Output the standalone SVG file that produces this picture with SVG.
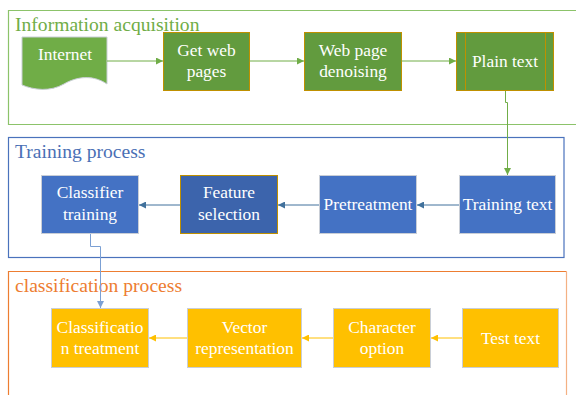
<svg xmlns="http://www.w3.org/2000/svg" width="576" height="395" viewBox="0 0 576 395">
<style>
text{font-family:"Liberation Serif","Times New Roman",serif;}
.title{font-size:19.6px;}
.lbl{font-size:17.4px;fill:#FFFFFF;text-anchor:middle;}
.gbox{fill:#629B3E;stroke:#BF9000;stroke-width:1;}
.bbox{fill:#4472C4;stroke:#C9CED6;stroke-width:1;}
.bbox2{fill:#3C64AC;stroke:#BF9000;stroke-width:1;}
.ybox{fill:#FFC000;stroke:#C9CED6;stroke-width:1;}
</style>
<defs>
<marker id="ag" viewBox="0 0 10 10" refX="10" refY="5" markerWidth="7" markerHeight="7" markerUnits="userSpaceOnUse" orient="auto"><path d="M0,0 L10,5 L0,10 Z" fill="#70AD47"/></marker>
<marker id="ab" viewBox="0 0 10 10" refX="10" refY="5" markerWidth="7" markerHeight="7" markerUnits="userSpaceOnUse" orient="auto"><path d="M0,0 L10,5 L0,10 Z" fill="#41719C"/></marker>
<marker id="alb" viewBox="0 0 10 10" refX="10" refY="5" markerWidth="7" markerHeight="7" markerUnits="userSpaceOnUse" orient="auto"><path d="M0,0 L10,5 L0,10 Z" fill="#7BA0D4"/></marker>
<marker id="ay" viewBox="0 0 10 10" refX="10" refY="5" markerWidth="7" markerHeight="7" markerUnits="userSpaceOnUse" orient="auto"><path d="M0,0 L10,5 L0,10 Z" fill="#FFC000"/></marker>
</defs>
<rect width="576" height="395" fill="#FFFFFF"/>

<g id="container-info">
<path d="M577,10.5 H8.5 V124.5 H577" fill="none" stroke="#8CC36A" stroke-width="1.2"/>
<text class="title" x="15" y="31" fill="#70AD47">Information acquisition</text>
</g>
<g id="container-training">
<rect x="8.5" y="137.5" width="555.5" height="120" fill="none" stroke="#4A72BC" stroke-width="1.2"/>
<text class="title" x="15" y="158" fill="#4A6FB5">Training process</text>
</g>
<g id="container-classification">
<path d="M8.5,397 V271.5 H566.5" fill="none" stroke="#ED7D31" stroke-width="1.2"/>
<path d="M566.5,271.5 V397" fill="none" stroke="#F4B183" stroke-width="1.2"/>
<text class="title" x="15" y="292" fill="#ED7D31">classification process</text>
</g>

<g id="node-internet">
<path d="M22,37 H107 V84 C92,74 76,77 64,84 C50,92 34,90 22,85 Z" fill="#70AD47" stroke="#C9CED6" stroke-width="1"/>
<text class="lbl" x="65" y="60">Internet</text>
</g>
<g id="node-getweb">
<rect class="gbox" x="163.5" y="32.5" width="86" height="58"/>
<text class="lbl" x="206.5" y="56">Get web</text>
<text class="lbl" x="206.5" y="77">pages</text>
</g>
<g id="node-denoise">
<rect class="gbox" x="304.5" y="32.5" width="97" height="58"/>
<text class="lbl" x="353" y="56">Web page</text>
<text class="lbl" x="353" y="77">denoising</text>
</g>
<g id="node-plaintext">
<rect class="gbox" x="456.5" y="32.5" width="97" height="58"/>
<line x1="465.5" y1="32.5" x2="465.5" y2="90.5" stroke="#BF9000" stroke-width="1"/>
<line x1="545.5" y1="32.5" x2="545.5" y2="90.5" stroke="#BF9000" stroke-width="1"/>
<text class="lbl" x="505" y="67">Plain text</text>
</g>

<g id="node-classifier-training">
<rect class="bbox" x="41.5" y="175.5" width="97" height="58"/>
<text class="lbl" x="90" y="198">Classifier</text>
<text class="lbl" x="90" y="220">training</text>
</g>
<g id="node-feature-selection">
<rect class="bbox2" x="180.5" y="175.5" width="97" height="58"/>
<text class="lbl" x="229" y="198">Feature</text>
<text class="lbl" x="229" y="220">selection</text>
</g>
<g id="node-pretreatment">
<rect class="bbox" x="319.5" y="175.5" width="97" height="58"/>
<text class="lbl" x="368" y="210">Pretreatment</text>
</g>
<g id="node-training-text">
<rect class="bbox" x="459.5" y="175.5" width="96" height="58"/>
<text class="lbl" x="507.5" y="210">Training text</text>
</g>

<g id="node-classification-treatment">
<rect class="ybox" x="51.5" y="308.5" width="97" height="59"/>
<text class="lbl" x="100" y="333">Classificatio</text>
<text class="lbl" x="100" y="354">n treatment</text>
</g>
<g id="node-vector">
<rect class="ybox" x="187.5" y="308.5" width="114" height="59"/>
<text class="lbl" x="244.5" y="333">Vector</text>
<text class="lbl" x="244.5" y="354">representation</text>
</g>
<g id="node-character">
<rect class="ybox" x="333.5" y="308.5" width="97" height="59"/>
<text class="lbl" x="382" y="333">Character</text>
<text class="lbl" x="382" y="354">option</text>
</g>
<g id="node-test">
<rect class="ybox" x="462.5" y="308.5" width="96" height="59"/>
<text class="lbl" x="510.5" y="344">Test text</text>
</g>

<g id="connectors" fill="none">
<line x1="107" y1="61" x2="163" y2="61" stroke="#70AD47" stroke-width="1" marker-end="url(#ag)"/>
<line x1="249.5" y1="61" x2="304" y2="61" stroke="#70AD47" stroke-width="1" marker-end="url(#ag)"/>
<line x1="401.5" y1="61" x2="456" y2="61" stroke="#70AD47" stroke-width="1" marker-end="url(#ag)"/>
<path d="M505.5,91 V102.5 H507.5 V175" stroke="#70AD47" stroke-width="1" marker-end="url(#ag)"/>
<line x1="459" y1="205" x2="417" y2="205" stroke="#41719C" stroke-width="1" marker-end="url(#ab)"/>
<line x1="319" y1="205" x2="278" y2="205" stroke="#41719C" stroke-width="1" marker-end="url(#ab)"/>
<line x1="180" y1="205" x2="139" y2="205" stroke="#41719C" stroke-width="1" marker-end="url(#ab)"/>
<path d="M90.5,234 V246.5 H100.5 V308" stroke="#7BA0D4" stroke-width="1" marker-end="url(#alb)"/>
<line x1="462" y1="338" x2="431" y2="338" stroke="#FFC000" stroke-width="1" marker-end="url(#ay)"/>
<line x1="333" y1="338" x2="302" y2="338" stroke="#FFC000" stroke-width="1" marker-end="url(#ay)"/>
<line x1="187" y1="338" x2="149" y2="338" stroke="#FFC000" stroke-width="1" marker-end="url(#ay)"/>
</g>
</svg>
